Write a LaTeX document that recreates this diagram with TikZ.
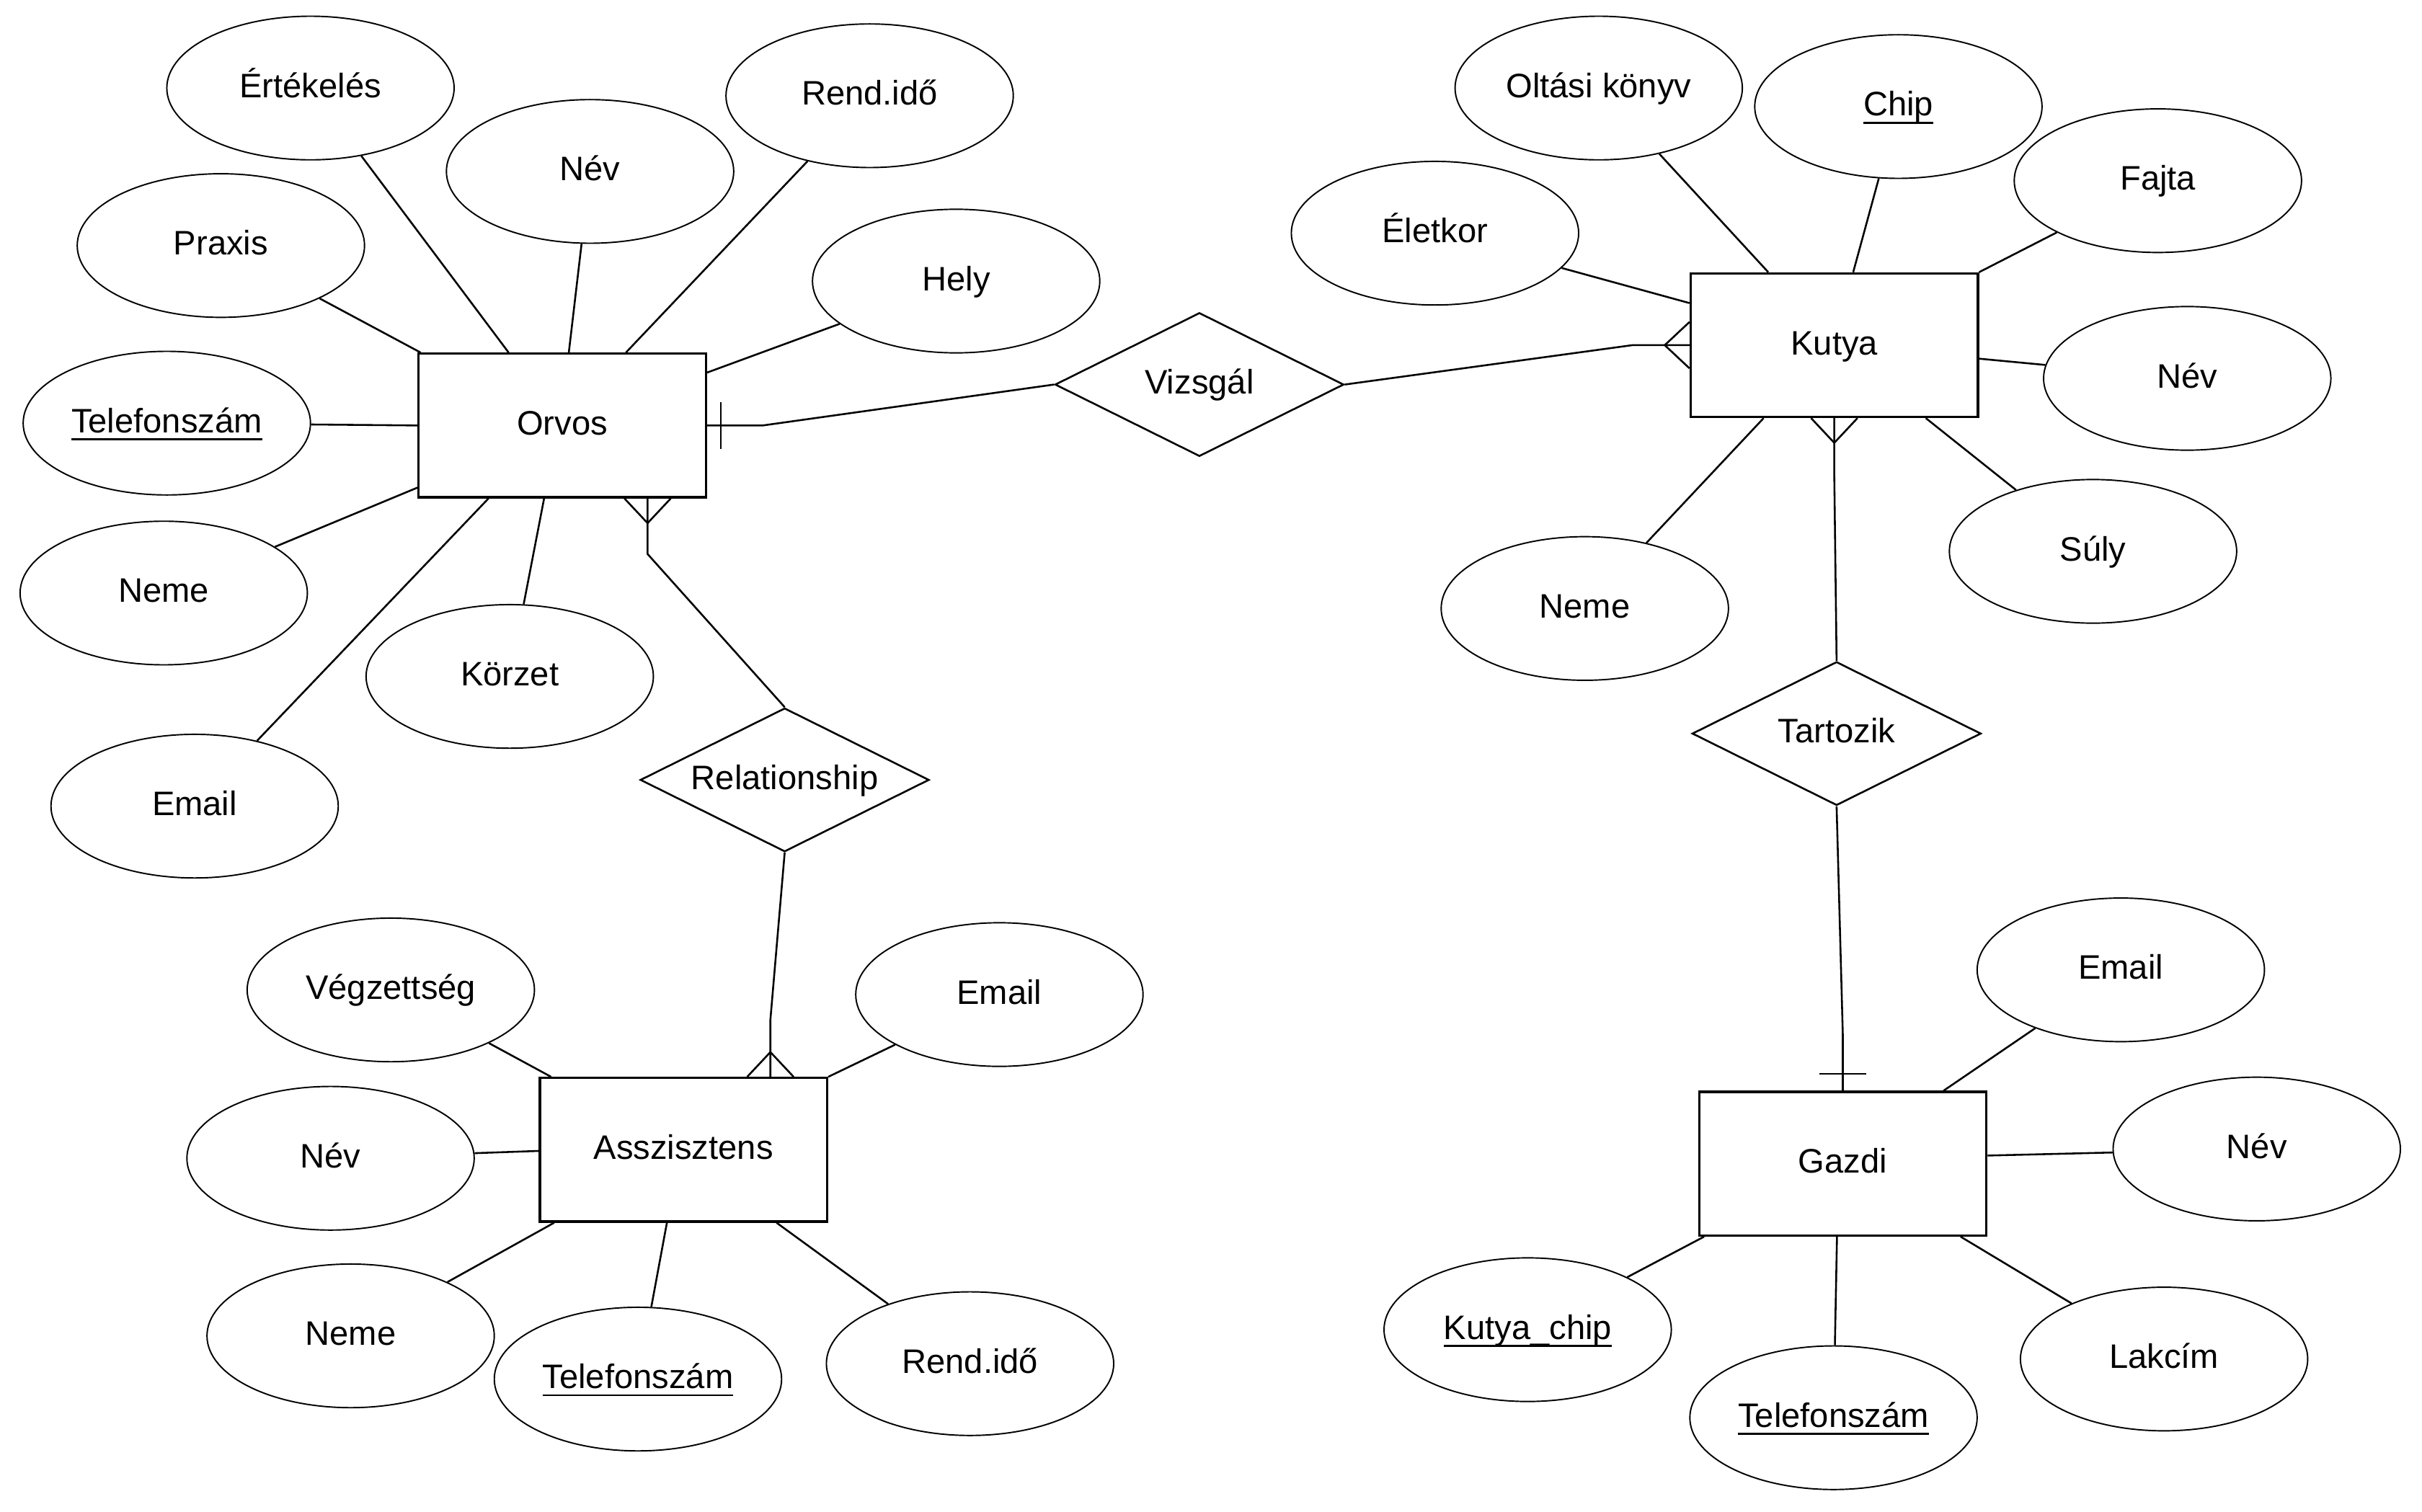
\documentclass[tikz,border=0pt]{standalone}
\usepackage{fontspec}
\setmainfont{Liberation Sans}
\usetikzlibrary{shapes.geometric,calc}
% key attributes: text with a rule just below the baseline
\newsavebox\keybox
\newcommand{\keyattr}[1]{\sbox\keybox{#1}\rlap{\rule[-5pt]{\wd\keybox}{1.2pt}}\usebox\keybox}
\begin{document}
\begin{tikzpicture}[x=1pt,y=-1pt,
  every node/.style={font=\fontsize{22}{26}\selectfont, text height=12.2pt, text depth=0pt, inner sep=0pt},
  entity/.style={draw, line width=1.5pt, minimum width=186pt, minimum height=93pt},
  attr/.style={draw, ellipse, line width=0.9pt, minimum width=186pt, minimum height=93pt},
  relbox/.style={draw, diamond, aspect=2, line width=1.2pt, minimum width=187pt, minimum height=93pt},
  conn/.style={line width=1.2pt},
]
\fill[white] (0,0) rectangle (1568,979);
\useasboundingbox (0,0) rectangle (1568,979);

% ---------- Orvos ----------
\node[entity] (orvos) at (364,275.5) {Orvos};
\node[attr] (o_ert)  at (201,57)  {Értékelés};
\node[attr] (o_nev)  at (382,111) {Név};
\node[attr] (o_rend) at (563,62)  {Rend.idő};
\node[attr] (o_prax) at (143,159) {Praxis};
\node[attr] (o_hely) at (619,182) {Hely};
\node[attr] (o_tel)  at (108,274) {\keyattr{Telefonszám}};
\node[attr] (o_neme) at (106,384) {Neme};
\node[attr] (o_korz) at (330,438) {Körzet};
\node[attr] (o_mail) at (126,522) {Email};

\draw[conn] (o_ert)  -- ($(orvos.north west)+(59,0)$);
\draw[conn] (o_nev)  -- ($(orvos.north west)+(98,0)$);
\draw[conn] (o_rend) -- ($(orvos.north west)+(135,0)$);
\draw[conn] (o_prax) -- ($(orvos.north west)+(2,0)$);
\draw[conn] (o_hely) -- ($(orvos.north east)+(0,13)$);
\draw[conn] (o_tel)  -- (orvos.west);
\draw[conn] (o_neme) -- ($(orvos.south west)+(0,-7)$);
\draw[conn] (o_mail) -- ($(orvos.south west)+(46,0)$);
\draw[conn] (o_korz) -- ($(orvos.south west)+(82,0)$);

% ---------- Kutya ----------
\node[entity] (kutya) at (1187.5,223.5) {Kutya};
\node[attr] (k_olt)  at (1035,57)  {Oltási könyv};
\node[attr] (k_chip) at (1229,69)  {\keyattr{Chip}};
\node[attr] (k_fajt) at (1397,117) {Fajta};
\node[attr] (k_elet) at (929,151)  {Életkor};
\node[attr] (k_nev)  at (1416,245) {Név};
\node[attr] (k_suly) at (1355,357) {Súly};
\node[attr] (k_neme) at (1026,394) {Neme};

\draw[conn] (k_olt)  -- ($(kutya.north west)+(51,0)$);
\draw[conn] (k_chip) -- ($(kutya.north west)+(106,0)$);
\draw[conn] (k_fajt) -- (kutya.north east);
\draw[conn] (k_elet) -- ($(kutya.north west)+(0,20)$);
\draw[conn] (k_nev)  -- ($(kutya.north east)+(0,56)$);
\draw[conn] (k_suly) -- ($(kutya.south west)+(153,0)$);
\draw[conn] (k_neme) -- ($(kutya.south west)+(48,0)$);

% ---------- Asszisztens ----------
\node[entity] (assz) at (442.5,744.5) {Asszisztens};
\node[attr] (a_vegz) at (253,641) {Végzettség};
\node[attr] (a_mail) at (647,644) {Email};
\node[attr] (a_nev)  at (214,750) {Név};
\node[attr] (a_neme) at (227,865) {Neme};
\node[attr] (a_tel)  at (413,893) {\keyattr{Telefonszám}};
\node[attr] (a_rend) at (628,883) {Rend.idő};

\draw[conn] (a_vegz) -- ($(assz.north west)+(8,0)$);
\draw[conn] (a_mail) -- (assz.north east);
\draw[conn] (a_nev)  -- ($(assz.north west)+(0,48)$);
\draw[conn] (a_neme) -- ($(assz.south west)+(10,0)$);
\draw[conn] (a_tel)  -- ($(assz.south west)+(83,0)$);
\draw[conn] (a_rend) -- ($(assz.south west)+(154,0)$);

% ---------- Gazdi ----------
\node[entity] (gazdi) at (1193,753.5) {Gazdi};
\node[attr] (g_mail) at (1373,628) {Email};
\node[attr] (g_nev)  at (1461,744) {Név};
\node[attr] (g_chip) at (989,861)  {\keyattr{Kutya\_chip}};
\node[attr] (g_tel)  at (1187,918) {\keyattr{Telefonszám}};
\node[attr] (g_lak)  at (1401,880) {Lakcím};

\draw[conn] (g_mail) -- ($(gazdi.north west)+(159,0)$);
\draw[conn] (g_nev)  -- ($(gazdi.north east)+(0,42)$);
\draw[conn] (g_chip) -- ($(gazdi.south west)+(4,0)$);
\draw[conn] (g_tel)  -- ($(gazdi.south west)+(90,0)$);
\draw[conn] (g_lak)  -- ($(gazdi.south west)+(170,0)$);

% ---------- relationships ----------
\node[relbox] (vizsgal)  at (776.5,249)  {Vizsgál};
\node[relbox] (rel)      at (508,505)    {Relationship};
\node[relbox] (tartozik) at (1189,475)   {Tartozik};

% Orvos (one) -- Vizsgál -- Kutya (many)
\coordinate (vo1) at ($(orvos.east)+(36,0)$);
\draw[conn] (orvos.east) -- (vo1) -- (vizsgal.west);
\draw[conn] ($(orvos.east)+(9,-15)$) -- ($(orvos.east)+(9,15)$);
\coordinate (vk1) at ($(kutya.west)+(-37,0)$);
\draw[conn] (vizsgal.east) -- (vk1) -- (kutya.west);
\draw[conn] ($(kutya.west)+(0,-15)$) -- ($(kutya.west)+(-16,0)$) -- ($(kutya.west)+(0,15)$);

% Orvos (many) -- Relationship -- Asszisztens (many)
\coordinate (or0) at ($(orvos.south west)+(149,0)$);
\coordinate (or1) at ($(or0)+(0,36)$);
\draw[conn] (or0) -- (or1) -- (rel.north);
\draw[conn] ($(or0)+(-15,0)$) -- ($(or0)+(0,16)$) -- ($(or0)+(15,0)$);
\coordinate (ra0) at ($(assz.north west)+(150,0)$);
\coordinate (ra1) at ($(ra0)+(0,-37)$);
\draw[conn] (rel.south) -- (ra1) -- (ra0);
\draw[conn] ($(ra0)+(-15,0)$) -- ($(ra0)+(0,-16)$) -- ($(ra0)+(15,0)$);

% Kutya (many) -- Tartozik -- Gazdi (one)
\coordinate (kt1) at ($(kutya.south)+(0,37)$);
\draw[conn] (kutya.south) -- (kt1) -- (tartozik.north);
\draw[conn] ($(kutya.south)+(-15,0)$) -- ($(kutya.south)+(0,16)$) -- ($(kutya.south)+(15,0)$);
\coordinate (tg1) at ($(gazdi.north)+(0,-37)$);
\draw[conn] (tartozik.south) -- (tg1) -- (gazdi.north);
\draw[conn] ($(gazdi.north)+(-15,-11)$) -- ($(gazdi.north)+(15,-11)$);
\end{tikzpicture}
\end{document}
